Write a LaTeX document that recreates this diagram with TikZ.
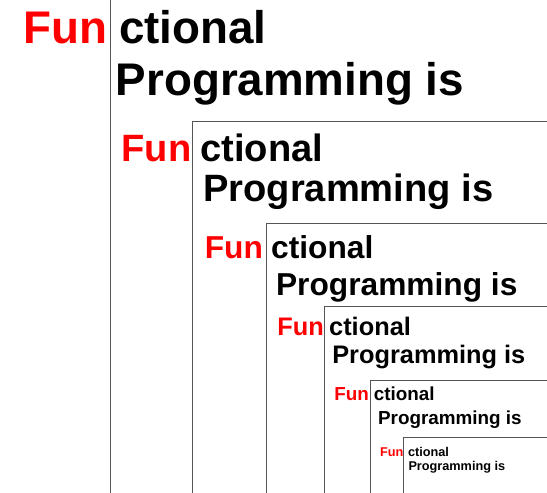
\documentclass[tikz,border=0pt]{standalone}
\usepackage{fontspec}
\setmainfont{Liberation Sans}
\definecolor{funred}{HTML}{FF0000}
\definecolor{framegray}{HTML}{555555}
\tikzset{
  funtxt/.style={inner sep=0pt, text=funred, anchor=base east},
  bodytxt/.style={inner sep=0pt, text=black, anchor=base west},
  frameline/.style={draw=framegray, line width=0.9pt},
}
\newcommand{\fsz}[1]{\fontsize{#1}{#1}\selectfont\bfseries}
\begin{document}
\begin{tikzpicture}[x=1pt,y=-1pt]
\useasboundingbox (0,0) rectangle (547,493);
% level 1
\draw[frameline] (110.5,-2) -- (110.5,495);
\node[funtxt,font=\fsz{45.75}] (fun1) at (107.4,43.3) {Fun};
\node[bodytxt,font=\fsz{45.75}] (ct1) at (118.9,43.3) {ctional};
\node[bodytxt,font=\fsz{45.75}] (pr1) at (115.6,95) {Programming is};
% level 2
\draw[frameline] (192.3,495) -- (192.3,121) -- (549,121);
\node[funtxt,font=\fsz{38.1}] (fun2) at (191.6,161.7) {Fun};
\node[bodytxt,font=\fsz{38.1}] (ct2) at (200.2,161.7) {ctional};
\node[bodytxt,font=\fsz{38.1}] (pr2) at (203.1,201) {Programming is};
% level 3
\draw[frameline] (266.7,495) -- (266.7,223) -- (549,223);
\node[funtxt,font=\fsz{31.7}] (fun3) at (263.1,258.3) {Fun};
\node[bodytxt,font=\fsz{31.7}] (ct3) at (271,258.3) {ctional};
\node[bodytxt,font=\fsz{31.7}] (pr3) at (275.9,295) {Programming is};
% level 4
\draw[frameline] (324.3,495) -- (324.3,306.7) -- (549,306.7);
\node[funtxt,font=\fsz{25.35}] (fun4) at (324,335.7) {Fun};
\node[bodytxt,font=\fsz{25.35}] (ct4) at (329,335.7) {ctional};
\node[bodytxt,font=\fsz{25.35}] (pr4) at (332.1,363.3) {Programming is};
% level 5
\draw[frameline] (370,495) -- (370,380) -- (549,380);
\node[funtxt,font=\fsz{18.85}] (fun5) at (369,400.7) {Fun};
\node[bodytxt,font=\fsz{18.85}] (ct5) at (373.6,400.7) {ctional};
\node[bodytxt,font=\fsz{18.85}] (pr5) at (377.9,424) {Programming is};
% level 6
\draw[frameline] (403,495) -- (403,437.3) -- (549,437.3);
\node[funtxt,font=\fsz{12.7}] (fun6) at (403.6,456.7) {Fun};
\node[bodytxt,font=\fsz{12.7}] (ct6) at (407.8,456.7) {ctional};
\node[bodytxt,font=\fsz{12.7}] (pr6) at (408.3,470) {Programming is};
\end{tikzpicture}
\end{document}
